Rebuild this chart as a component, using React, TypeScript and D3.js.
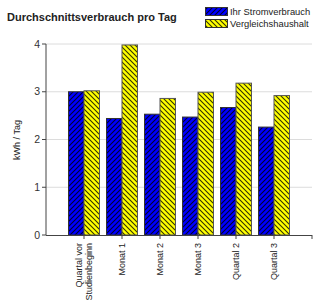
import React from "react";
import * as d3 from "d3";

const categories: string[][] = [
  ["Quartal vor", "Studienbeginn"],
  ["Monat 1"],
  ["Monat 2"],
  ["Monat 3"],
  ["Quartal 2"],
  ["Quartal 3"],
];
const ihrValues = [3.0, 2.44, 2.53, 2.47, 2.67, 2.26];
const vergleichValues = [3.02, 3.98, 2.86, 2.99, 3.18, 2.92];
const seriesNames = ["Ihr Stromverbrauch", "Vergleichshaushalt"];
const yTicks = [0, 1, 2, 3, 4];

const W = 313;
const H = 300;
const left = 46;
const right = 312;
const top = 44;
const bottom = 235;

export default function App() {
  const y = d3.scaleLinear().domain([0, 4]).range([bottom, top]);
  const x = d3
    .scalePoint<number>()
    .domain(d3.range(categories.length + 2))
    .range([left, right]);
  const barW = 15.5;
  const font = "'Liberation Sans', Arial, sans-serif";
  const P = 5;

  return (
    <svg
      width={W}
      height={H}
      style={{ position: "absolute", left: 0, top: 0, background: "#fff" }}
      fontFamily={font}
    >
      <defs>
        <pattern id="hatchBlue" patternUnits="userSpaceOnUse" width={P} height={P}>
          <rect width={P} height={P} fill="#0000ff" />
          <path
            d={`M-1,1 L1,-1 M0,${P} L${P},0 M${P - 1},${P + 1} L${P + 1},${P - 1}`}
            stroke="#000033"
            strokeWidth={1.1}
          />
        </pattern>
        <pattern id="hatchYellow" patternUnits="userSpaceOnUse" width={P} height={P}>
          <rect width={P} height={P} fill="#ffff00" />
          <path
            d={`M-1,${P - 1} L1,${P + 1} M0,0 L${P},${P} M${P - 1},-1 L${P + 1},1`}
            stroke="#333300"
            strokeWidth={1.1}
          />
        </pattern>
      </defs>

      <text x={7} y={21} fontSize={11} fontWeight="bold" fill="#222">
        Durchschnittsverbrauch pro Tag
      </text>

      {seriesNames.map((name, i) => (
        <g key={name}>
          <rect
            x={205.5}
            y={7.5 + i * 12}
            width={22}
            height={8}
            fill={i === 0 ? "url(#hatchBlue)" : "url(#hatchYellow)"}
            stroke="#333"
            strokeWidth={1}
          />
          <text x={230} y={15 + i * 12} fontSize={9.4} fill="#222">
            {name}
          </text>
        </g>
      ))}

      {yTicks
        .filter((t) => t > 0)
        .map((t) => (
          <line key={"g" + t} x1={left} x2={right} y1={y(t)} y2={y(t)} stroke="#dcdcdc" strokeWidth={1} />
        ))}

      {categories.map((_, i) => {
        const cx = x(i + 1) as number;
        return (
          <g key={"b" + i}>
            <rect
              x={cx - barW}
              y={y(ihrValues[i])}
              width={barW}
              height={bottom - y(ihrValues[i])}
              fill="url(#hatchBlue)"
              stroke="#333"
              strokeWidth={1}
            />
            <rect
              x={cx}
              y={y(vergleichValues[i])}
              width={barW}
              height={bottom - y(vergleichValues[i])}
              fill="url(#hatchYellow)"
              stroke="#555"
              strokeWidth={1}
            />
          </g>
        );
      })}

      <line x1={left} x2={left} y1={top} y2={bottom} stroke="#444" strokeWidth={1} />
      <line x1={left} x2={right} y1={bottom + 0.5} y2={bottom + 0.5} stroke="#444" strokeWidth={1} />
      {yTicks.map((t) => (
        <g key={"t" + t}>
          <line x1={left - 4} x2={left} y1={y(t)} y2={y(t)} stroke="#444" />
          <text x={40} y={y(t) + 3.5} fontSize={10.5} fill="#333" textAnchor="end">
            {t}
          </text>
        </g>
      ))}
      {d3.range(1, categories.length + 2).map((i) => {
        const cx = x(i) as number;
        return <line key={"xt" + i} x1={cx} x2={cx} y1={bottom} y2={bottom + 4} stroke="#444" />;
      })}

      {categories.map((lines, i) => {
        const cx = x(i + 1) as number;
        const n = lines.length;
        return (
          <text
            key={"l" + i}
            transform={`translate(${cx},243) rotate(-90)`}
            fontSize={9}
            fill="#222"
            textAnchor="end"
          >
            {lines.map((ln, j) => (
              <tspan key={j} x={0} y={3.2 + (j - (n - 1) / 2) * 10}>
                {ln}
              </tspan>
            ))}
          </text>
        );
      })}

      <text
        transform={`translate(20,140) rotate(-90)`}
        fontSize={9}
        fill="#222"
        textAnchor="middle"
      >
        kWh / Tag
      </text>
    </svg>
  );
}
